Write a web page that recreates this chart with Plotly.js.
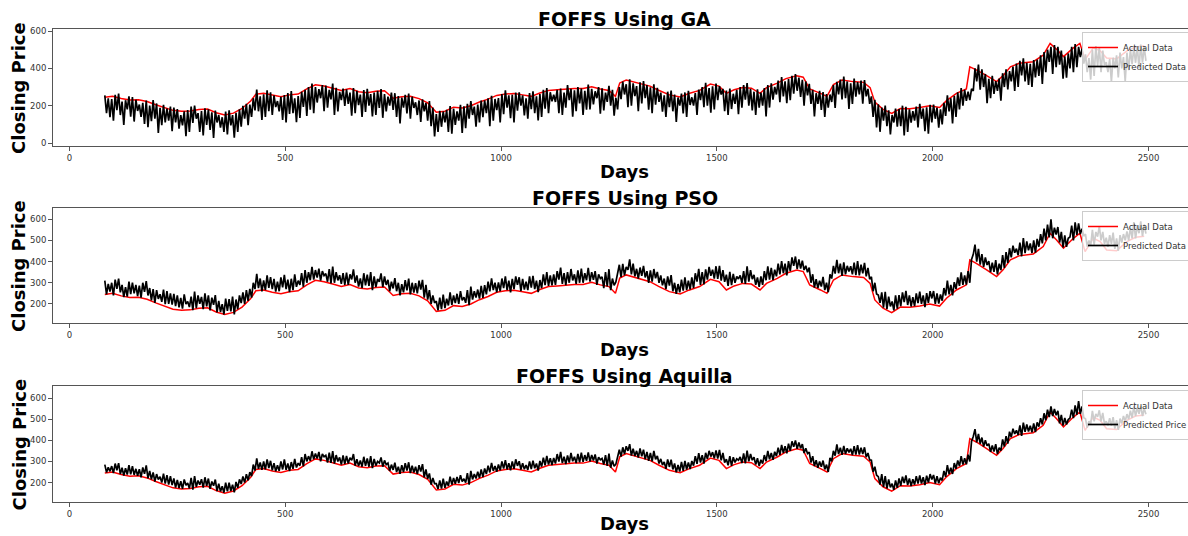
<!DOCTYPE html>
<html>
<head>
<meta charset="utf-8">
<script src="https://cdn.plot.ly/plotly-3.0.1.min.js"></script>
<style>
html,body{margin:0;padding:0;overflow:hidden;background:#fff;}
#chart{width:1240px;height:536px;}
</style>
</head>
<body>
<div id="chart"></div>
<script>
// ---- data ----
const actualDays = [82,100,120,140,160,180,200,220,240,260,280,300,320,340,360,380,400,420,432,450,470,490,510,530,550,570,590,610,630,650,670,690,710,730,750,770,790,810,830,850,870,890,910,930,950,970,990,1010,1030,1050,1070,1090,1110,1130,1150,1170,1190,1210,1230,1250,1265,1275,1290,1320,1345,1365,1390,1415,1435,1460,1485,1505,1522,1540,1560,1580,1600,1615,1640,1660,1685,1700,1715,1740,1755,1770,1790,1815,1840,1855,1866,1885,1905,1925,1947,1970,1993,2016,2032,2055,2078,2086,2101,2125,2148,2163,2180,2200,2233,2256,2272,2287,2303,2326,2341,2353,2372,2388,2403,2426,2450,2470,2490];
const actualVals = [245,250,238,230,232,222,205,190,175,170,172,180,182,162,150,160,185,225,262,266,255,248,258,262,290,312,305,294,282,292,275,270,278,280,240,248,250,238,215,165,170,192,188,200,220,235,255,262,265,258,250,268,282,285,290,292,292,302,290,282,250,322,337,318,305,283,258,247,265,282,316,305,266,285,297,294,266,297,321,345,360,353,290,266,250,313,337,329,325,297,219,180,159,185,184,190,200,190,227,266,290,408,392,361,329,361,408,427,436,471,534,502,463,510,534,447,510,494,455,451,494,515,520];

// predicted values, one every 4 days starting at day 82
const predStartDay = 82;
const predStepDays = 4;
const predGA = [
255,160,240,138,235,120,258,176,265,150,222,97,229,180,250,141,246,115,232,172,
206,140,215,102,228,85,200,117,230,130,212,54,188,95,205,111,185,120,195,64,
190,110,182,77,150,95,170,36,177,60,195,108,201,130,160,59,171,40,186,97,
181,70,165,27,174,110,150,83,138,60,168,46,175,95,150,29,162,60,180,88,
199,130,210,95,206,140,240,175,287,170,250,124,261,140,282,171,272,150,255,193,
225,170,248,123,257,110,268,156,279,160,240,111,252,135,275,193,285,145,300,179,
318,160,300,217,289,240,310,171,308,190,285,234,319,150,296,169,274,230,292,199,
288,210,270,147,295,160,280,203,259,140,284,167,290,200,262,143,271,150,280,188,
289,135,262,170,249,200,270,178,267,140,252,105,243,190,258,159,265,130,248,188,
218,150,228,113,234,170,215,120,225,90,190,35,155,60,172,87,169,110,178,60,
198,50,185,97,170,120,205,54,197,80,210,131,225,150,195,88,206,110,228,138,
229,160,240,90,253,120,236,176,241,110,262,154,282,190,255,133,259,110,270,174,
271,200,255,148,240,130,268,182,277,160,250,121,263,140,285,184,295,160,272,223,
259,220,285,160,292,150,270,189,310,230,290,141,282,170,300,212,292,150,280,179,
313,180,290,207,277,240,300,157,293,175,270,220,307,200,285,146,242,180,300,235,
329,260,315,192,342,200,320,251,305,170,325,212,332,240,310,178,299,160,315,205,
296,220,270,168,255,140,275,192,281,170,260,113,244,200,265,158,271,140,280,204,
245,200,268,150,286,230,300,192,323,200,295,163,304,180,318,230,305,260,290,171,
281,150,292,182,264,210,285,155,300,190,310,232,321,200,290,175,275,150,288,190,
270,200,295,143,310,190,320,233,301,260,335,219,354,250,330,213,343,230,360,264,
369,280,350,247,339,200,330,255,317,210,285,142,267,210,280,177,273,140,262,190,
260,220,310,188,328,260,340,233,356,240,330,183,320,210,345,248,327,260,335,211,
337,250,290,210,250,140,232,84,207,60,190,120,200,90,175,46,150,110,185,87,
182,90,200,40,194,60,180,109,171,120,195,83,210,130,185,63,192,50,205,110,
206,130,190,82,180,100,215,145,255,170,240,105,253,140,272,180,294,200,285,226,
275,230,290,279,400,330,420,286,395,300,370,214,344,240,360,263,332,280,345,227,
374,300,395,287,385,330,410,279,426,300,440,362,454,330,430,311,424,300,445,351,
447,360,470,317,488,380,500,435,515,370,525,407,515,420,495,345,465,350,480,400,
515,380,530,406,515,460,505,425,475,380,455,340,500,360,520,413,511,380,495,418,
433,380,450,329,457,400,470,351,485,400,460,330,484,390,500,422,511,430,520,401,
528,430,515,440];
const predPSO = [
310,245,295,258,300,240,315,271,320,255,290,232,279,235,305,246,301,250,290,237,
286,230,300,257,308,240,275,217,270,205,265,224,246,210,268,199,260,200,250,197,
247,190,240,184,228,178,245,199,212,185,235,171,258,180,240,201,233,175,250,188,
241,170,230,196,242,160,215,162,199,150,225,167,223,165,235,151,221,175,240,204,
254,200,265,215,271,230,300,270,342,275,320,259,311,265,335,276,327,270,318,258,
305,260,325,278,337,270,315,256,319,265,340,281,310,290,345,281,360,300,350,312,
375,315,360,324,367,310,355,334,343,305,365,297,376,300,350,311,336,295,345,290,
348,290,340,316,363,300,335,282,320,275,345,288,338,285,350,265,330,280,318,304,
344,280,330,290,314,260,305,273,322,260,300,240,293,255,312,264,320,245,300,253,
298,250,310,268,314,230,290,220,265,200,240,205,213,170,230,175,244,180,225,193,
255,195,240,204,248,200,260,217,232,205,265,194,282,220,260,230,268,225,285,229,
289,245,305,259,321,265,300,255,302,260,320,275,330,265,310,255,318,270,330,290,
326,260,318,268,305,265,330,277,332,270,310,256,313,275,340,289,350,285,335,288,
339,290,355,315,372,295,345,289,350,300,365,311,340,295,358,300,367,300,345,312,
370,305,350,314,355,290,340,320,328,275,350,283,364,265,320,288,304,340,385,326,
389,335,375,361,410,340,390,330,366,320,372,333,380,325,355,300,358,305,365,321,
351,300,335,288,320,270,330,287,336,260,300,248,294,255,315,263,326,265,310,269,
325,275,345,305,366,290,350,292,363,315,375,333,362,320,378,318,380,310,360,304,
338,285,352,289,342,300,330,318,335,300,355,295,378,305,360,317,337,290,325,281,
330,290,355,312,378,315,370,312,362,330,390,340,402,345,390,335,402,355,420,380,
424,365,410,367,404,360,380,350,372,300,340,277,317,275,310,282,328,265,300,255,
340,320,380,343,408,345,390,333,396,340,380,353,378,340,395,336,402,335,385,344,
394,330,370,317,328,260,300,247,242,205,255,183,257,175,235,188,212,170,240,178,
242,190,255,209,262,195,240,188,232,190,250,204,258,200,240,185,251,205,260,226,
261,200,250,202,245,215,275,240,310,245,290,240,303,270,325,285,349,290,335,291,
355,300,410,434,480,400,460,386,435,375,420,384,402,350,395,351,407,340,390,360,
431,370,445,394,463,420,475,442,461,430,490,425,511,440,495,453,486,440,500,442,
507,470,530,486,556,500,575,514,600,510,560,528,563,490,540,467,524,470,510,516,
570,500,585,526,580,530,555,520,530,470,500,475,550,480,540,518,566,500,540,483,
513,470,525,484,537,460,510,451,525,490,530,500,542,500,560,510,586,510,570,534,
590,520,575,532];
const predAQ = [
285,248,272,253,278,245,290,258,292,240,270,233,268,238,282,239,277,236,265,232,
263,225,272,241,281,220,255,215,248,205,240,214,228,200,242,195,235,190,230,188,
220,176,212,174,206,170,215,187,198,172,222,167,231,180,210,190,216,176,225,185,
219,170,205,185,214,160,195,158,183,152,200,158,199,160,190,154,203,175,215,193,
229,200,240,210,249,230,285,257,314,265,295,260,300,262,310,269,303,258,292,253,
282,255,300,262,310,260,290,254,297,265,312,271,292,280,320,277,335,300,325,303,
348,310,338,314,345,300,335,322,329,295,342,293,349,290,330,300,319,285,328,287,
326,290,318,305,335,280,310,278,304,275,322,279,314,275,325,268,312,280,300,293,
319,275,305,285,292,255,285,260,294,250,275,241,282,250,292,257,296,245,280,248,
275,240,282,252,287,225,262,218,243,190,222,195,195,170,210,171,219,175,205,184,
228,190,222,194,226,198,235,205,218,200,245,190,255,215,240,219,251,222,262,226,
267,240,280,248,293,255,278,251,286,258,300,266,306,262,292,258,300,265,310,279,
301,262,292,263,283,260,300,264,304,268,290,257,302,275,318,282,326,285,315,283,
316,290,335,299,345,292,322,287,328,295,340,301,322,292,336,296,342,298,330,303,
343,300,330,304,333,290,320,308,314,285,330,279,337,270,305,277,287,320,355,323,
367,335,372,350,382,328,360,326,350,318,362,324,356,310,345,303,340,300,350,310,
326,290,312,283,298,265,310,274,308,262,290,249,283,252,298,256,302,262,295,264,
302,280,325,289,339,295,330,290,341,312,350,323,344,315,352,314,355,305,340,295,
311,282,325,279,320,295,312,306,321,292,338,291,351,300,335,306,320,285,315,278,
308,290,330,301,350,310,340,308,346,325,365,331,378,340,372,338,384,350,395,369,
399,360,390,362,382,340,362,337,344,295,325,278,306,270,300,275,304,262,285,250,
317,300,350,327,381,335,365,331,374,335,362,343,360,330,372,332,377,332,365,335,
367,320,340,307,306,250,275,235,228,190,240,179,230,172,215,177,195,165,210,175,
220,185,228,198,234,188,220,184,216,190,230,195,234,195,225,188,233,200,240,215,
236,195,230,197,223,210,255,227,282,240,270,241,292,265,305,278,325,285,315,286,
332,300,395,418,453,390,430,384,413,370,400,374,384,345,375,347,382,335,365,351,
404,370,420,384,441,415,455,430,447,425,470,421,484,440,475,442,469,438,480,439,
485,465,505,475,528,495,545,510,560,515,548,519,539,480,520,470,506,475,498,505,
545,505,565,521,585,525,560,507,502,460,490,476,539,490,525,511,542,490,530,478,
490,470,505,468,510,455,495,449,503,480,515,490,524,500,540,506,561,515,555,525,
563,515,550,523];

const titles = ["FOFFS Using GA", "FOFFS Using PSO", "FOFFS Using Aquilla"];
const predNames = ["Predicted Data", "Predicted Data", "Predicted Price"];
const actualName = "Actual Data";
const xTicks = [0, 500, 1000, 1500, 2000, 2500];
const yTicksGA = [0, 200, 400, 600];
const yTicksOther = [200, 300, 400, 500, 600];

// ---- build ----
const predDays = predGA.map((_, i) => predStartDay + i * predStepDays);
const W = 1240, H = 536;
const FONT = "DejaVu Sans";
const preds = [predGA, predPSO, predAQ];
const panels = [[29, 146], [208, 323], [386, 502]];
const yRanges = [[-16, 611], [110, 653], [108, 657]];
const yTickSets = [yTicksGA, yTicksOther, yTicksOther];
const legendTops = [32, 211, 390];
const titleY = [19, 198, 376];
const daysY = [171, 349, 523];
const xLeft = 53, xRight = 1196;

const traces = [];
const layout = {
  width: W, height: H,
  margin: {l: 0, r: 0, t: 0, b: 0},
  paper_bgcolor: "#fff", plot_bgcolor: "#fff",
  font: {family: FONT, color: "#333"},
  showlegend: true,
  annotations: []
};

for (let k = 0; k < 3; k++) {
  const sx = k === 0 ? "" : String(k + 1);
  const lg = "legend" + sx;
  traces.push({
    type: "scatter", mode: "lines", x: actualDays, y: actualVals,
    xaxis: "x" + sx, yaxis: "y" + sx, name: actualName, legend: lg,
    line: {color: "#ff0000", width: 1.5}
  });
  traces.push({
    type: "scatter", mode: "lines", x: predDays, y: preds[k],
    xaxis: "x" + sx, yaxis: "y" + sx, name: predNames[k], legend: lg,
    line: {color: "#000000", width: 1.7}
  });
  const [top, bot] = panels[k];
  layout["xaxis" + sx] = {
    domain: [xLeft / W, xRight / W], range: [-38, 2610], anchor: "y" + sx,
    tickvals: xTicks, ticks: "outside", ticklen: 4, tickcolor: "#555", tickwidth: 1,
    showline: true, linecolor: "#555", linewidth: 1, mirror: true,
    showgrid: false, zeroline: false,
    tickfont: {family: FONT, size: 8.5, color: "#333"}
  };
  layout["yaxis" + sx] = {
    domain: [1 - bot / H, 1 - top / H], range: yRanges[k], anchor: "x" + sx,
    tickvals: yTickSets[k], ticks: "outside", ticklen: 4, tickcolor: "#555", tickwidth: 1,
    showline: true, linecolor: "#555", linewidth: 1, mirror: true,
    showgrid: false, zeroline: false,
    tickfont: {family: FONT, size: 8.5, color: "#333"}
  };
  layout[lg] = {
    x: 1082 / W, xanchor: "left", y: 1 - legendTops[k] / H, yanchor: "top",
    bgcolor: "rgba(255,255,255,0.8)", bordercolor: "#cccccc", borderwidth: 1,
    font: {family: FONT, size: 8.5, color: "#333"}, itemwidth: 30, tracegroupgap: 0
  };
  const cx = ((xLeft + xRight) / 2) / W;
  layout.annotations.push({
    xref: "paper", yref: "paper", x: cx, y: 1 - titleY[k] / H,
    xanchor: "center", yanchor: "middle", showarrow: false, text: titles[k],
    font: {family: FONT, size: 19, weight: "bold", color: "#000"}
  });
  layout.annotations.push({
    xref: "paper", yref: "paper", x: cx, y: 1 - daysY[k] / H,
    xanchor: "center", yanchor: "middle", showarrow: false, text: "Days",
    font: {family: FONT, size: 18, weight: "bold", color: "#000"}
  });
  layout.annotations.push({
    xref: "paper", yref: "paper", x: 18.5 / W, y: 1 - ((top + bot) / 2 + 1) / H,
    xanchor: "center", yanchor: "middle", showarrow: false, text: "Closing Price",
    textangle: -90,
    font: {family: FONT, size: 18, weight: "bold", color: "#000"}
  });
}

Plotly.newPlot("chart", traces, layout, {displayModeBar: false, staticPlot: true});
</script>
</body>
</html>
